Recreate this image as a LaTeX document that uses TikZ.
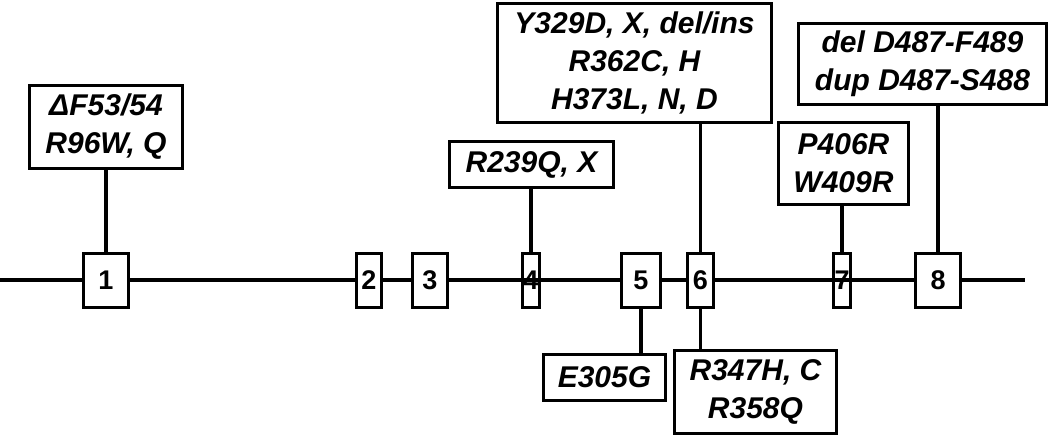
\documentclass[tikz,border=0pt]{standalone}
\usepackage{fontspec}
\setmainfont{Liberation Sans}
\usetikzlibrary{positioning}

\begin{document}
\begin{tikzpicture}[x=1pt, y={(0pt,-1pt)}, line width=3.3pt]
        \tikzset{
            exon/.style={rectangle, draw, fill=white, inner sep=0pt, minimum height=54pt, font=\fontsize{27}{30}\selectfont\bfseries},
            mut/.style={rectangle, draw, fill=white, inner sep=0pt, align=center, font=\fontsize{30}{38}\selectfont\bfseries\itshape}
        }
        \useasboundingbox (0,0) rectangle (1050,438);

        % gene backbone
        \coordinate (lineL) at (0,280);
        \coordinate (lineR) at (1025,280);
        \draw (lineL) -- (lineR);

        % exons
        \node[exon, minimum width=45pt] (ex1) at (106,280.5) {1};
        \node[exon, minimum width=25pt] (ex2) at (369,280.5) {2};
        \node[exon, minimum width=35pt] (ex3) at (430,280.5) {3};
        \node[exon, minimum width=17pt, fill=none] (ex4) at (531,280.5) {4};
        \node[exon, minimum width=39pt] (ex5) at (641,280.5) {5};
        \node[exon, minimum width=26pt] (ex6) at (700.5,280.5) {6};
        \node[exon, minimum width=17pt, fill=none] (ex7) at (842,280.5) {7};
        \node[exon, minimum width=45pt] (ex8) at (938,280.5) {8};

        % mutations
        \node[mut, minimum width=153pt, minimum height=83pt] (mut1) at (106,127) {ΔF53/54\\R96W, Q};
        \node[mut, minimum width=164pt, minimum height=46pt] (mut4) at (531.5,164.5) {R239Q, X};
        \node[mut, minimum width=274pt, minimum height=119pt] (mut6a) at (634.5,63) {Y329D, X, del/ins\\R362C, H\\H373L, N, D};
        \node[mut, minimum width=122pt, minimum height=46pt] (mut5) at (604.5,377.5) {E305G};
        \node[mut, minimum width=162pt, minimum height=83pt] (mut6b) at (755.5,392) {R347H, C\\R358Q};
        \node[mut, minimum width=130pt, minimum height=82pt] (mut7) at (843.5,163.5) {P406R\\W409R};
        \node[mut, minimum width=248pt, minimum height=81pt] (mut8) at (922.5,64) {del D487-F489\\dup D487-S488};

        \draw (ex1.north) -- (ex1.north |- mut1.south);
        \draw (ex4.north) -- (ex4.north |- mut4.south);
        \draw (ex6.north) -- (ex6.north |- mut6a.south);
        \draw (ex7.north) -- (ex7.north |- mut7.south);
        \draw (ex8.north) -- (ex8.north |- mut8.south);
        \draw (ex5.south) -- (ex5.south |- mut5.north);
        \draw (ex6.south) -- (ex6.south |- mut6b.north);

    \end{tikzpicture}
\end{document}
